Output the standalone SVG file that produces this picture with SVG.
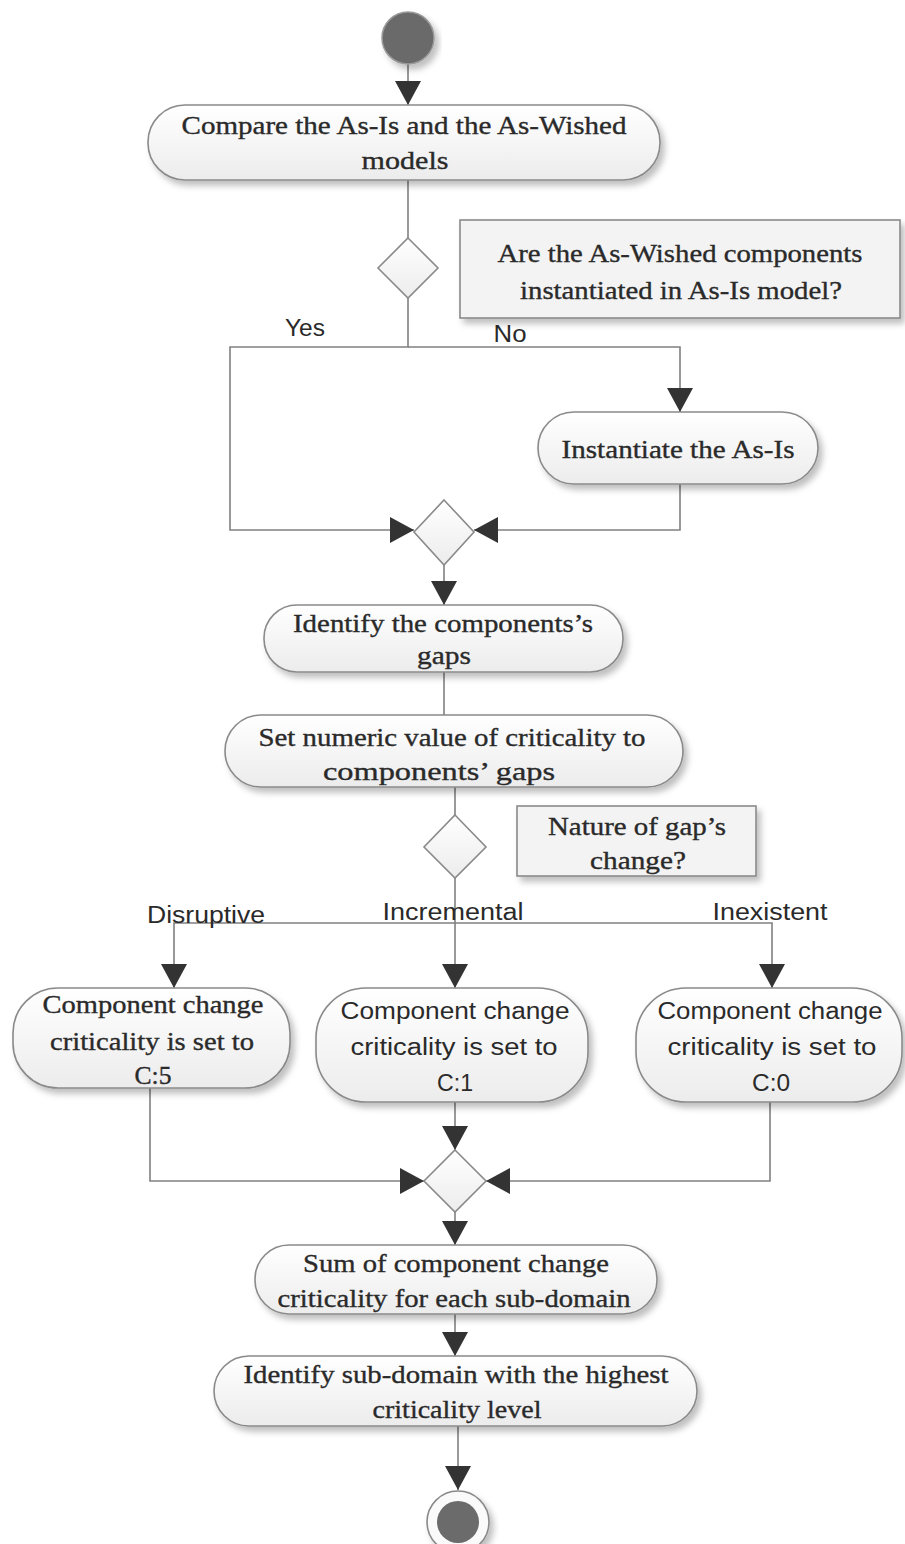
<svg xmlns="http://www.w3.org/2000/svg" width="905" height="1544" viewBox="0 0 905 1544">
<defs>
<linearGradient id="g" x1="0" y1="0" x2="0" y2="1">
<stop offset="0" stop-color="#ffffff"/>
<stop offset="1" stop-color="#ececec"/>
</linearGradient>
<filter id="sh" x="-10%" y="-10%" width="125%" height="135%">
<feDropShadow dx="4" dy="5" stdDeviation="3" flood-color="#000" flood-opacity="0.25"/>
</filter>
<marker id="ah" viewBox="0 0 24 26" refX="24" refY="13" markerWidth="24" markerHeight="26" markerUnits="userSpaceOnUse" orient="auto">
<path d="M0,0 L24,13 L0,26 z" fill="#333"/>
</marker>
<style>
.n{fill:url(#g);stroke:#8a8a8a;stroke-width:1.6;filter:url(#sh)}
.d{fill:url(#g);stroke:#8a8a8a;stroke-width:1.6}
.note{fill:#f3f3f3;stroke:#8a8a8a;stroke-width:1.6;filter:url(#sh)}
.c{fill:none;stroke:#808080;stroke-width:1.6}
.a{marker-end:url(#ah)}
.t{font-family:"Liberation Serif","Times New Roman",serif;font-size:26px;fill:#2a2a2a;stroke:#2a2a2a;stroke-width:0.35;text-anchor:middle}
.s{font-family:"Liberation Sans",Arial,sans-serif;font-size:23px;fill:#2a2a2a;text-anchor:middle}
</style>
</defs>
<g id="connectors">
<path class="c a" d="M408,64 V105"/>
<path class="c" d="M408,180 V238"/>
<path class="c a" d="M408,298 V347 H230 V530 H414"/>
<path class="c a" d="M408,347 H680 V412"/>
<path class="c a" d="M680,484 V530 H474"/>
<path class="c a" d="M444,565 V605"/>
<path class="c" d="M444,672 V715"/>
<path class="c" d="M455,787 V815"/>
<path class="c a" d="M455,878 V988"/>
<path class="c a" d="M455,923 H174 V988"/>
<path class="c a" d="M455,923 H772 V988"/>
<path class="c a" d="M150,1088 V1181 H424"/>
<path class="c a" d="M455,1102 V1150"/>
<path class="c a" d="M770,1102 V1181 H486"/>
<path class="c a" d="M455,1212 V1245"/>
<path class="c a" d="M455,1314 V1356"/>
<path class="c a" d="M458,1426 V1490"/>
<text class="s" x="305" y="336" textLength="40" lengthAdjust="spacingAndGlyphs">Yes</text>
<text class="s" x="510" y="342" textLength="33" lengthAdjust="spacingAndGlyphs">No</text>
<text class="s" x="206" y="923" textLength="118" lengthAdjust="spacingAndGlyphs">Disruptive</text>
<text class="s" x="453" y="920" textLength="141" lengthAdjust="spacingAndGlyphs">Incremental</text>
<text class="s" x="770" y="920" textLength="115" lengthAdjust="spacingAndGlyphs">Inexistent</text>
</g>
<g id="start"><circle cx="408" cy="38" r="26" fill="#6b6b6b" stroke="#9a9a9a" stroke-width="1.5" filter="url(#sh)"/></g>
<g id="compare">
<rect class="n" x="148" y="105" width="512" height="75" rx="37"/>
<text class="t" x="404" y="134" textLength="445" lengthAdjust="spacingAndGlyphs">Compare the As-Is and the As-Wished</text>
<text class="t" x="405" y="169" textLength="87" lengthAdjust="spacingAndGlyphs">models</text>
</g>
<g id="decision1"><path class="d" d="M408,238 L438,268 L408,298 L378,268 Z"/></g>
<g id="note1">
<rect class="note" x="460" y="220" width="440" height="98"/>
<text class="t" x="680" y="262" textLength="365" lengthAdjust="spacingAndGlyphs">Are the As-Wished components</text>
<text class="t" x="681" y="299" textLength="322" lengthAdjust="spacingAndGlyphs">instantiated in As-Is model?</text>
</g>
<g id="instantiate">
<rect class="n" x="538" y="412" width="280" height="72" rx="36"/>
<text class="t" x="678" y="458" textLength="233" lengthAdjust="spacingAndGlyphs">Instantiate the As-Is</text>
</g>
<g id="merge1"><path class="d" d="M444,500 L474,532 L444,565 L414,532 Z"/></g>
<g id="identify">
<rect class="n" x="264" y="605" width="359" height="67" rx="33"/>
<text class="t" x="443" y="632" textLength="300" lengthAdjust="spacingAndGlyphs">Identify the components’s</text>
<text class="t" x="444" y="664" textLength="54" lengthAdjust="spacingAndGlyphs">gaps</text>
</g>
<g id="setvalue">
<rect class="n" x="225" y="715" width="458" height="72" rx="36"/>
<text class="t" x="452" y="746" textLength="387" lengthAdjust="spacingAndGlyphs">Set numeric value of criticality to</text>
<text class="t" x="439" y="780" textLength="232" lengthAdjust="spacingAndGlyphs">components’ gaps</text>
</g>
<g id="decision2"><path class="d" d="M455,815 L486,847 L455,878 L424,847 Z"/></g>
<g id="note2">
<rect class="note" x="517" y="806" width="239" height="70"/>
<text class="t" x="637" y="835" textLength="178" lengthAdjust="spacingAndGlyphs">Nature of gap’s</text>
<text class="t" x="638" y="869" textLength="96" lengthAdjust="spacingAndGlyphs">change?</text>
</g>
<g id="c5">
<rect class="n" x="13" y="988" width="277" height="100" rx="45"/>
<text class="t" x="153" y="1013" textLength="221" lengthAdjust="spacingAndGlyphs">Component change</text>
<text class="t" x="152" y="1050" textLength="204" lengthAdjust="spacingAndGlyphs">criticality is set to</text>
<text class="t" x="153" y="1084" textLength="37" lengthAdjust="spacingAndGlyphs">C:5</text>
</g>
<g id="c1">
<rect class="n" x="316" y="988" width="272" height="114" rx="50"/>
<text class="s" x="455" y="1019" textLength="229" lengthAdjust="spacingAndGlyphs">Component change</text>
<text class="s" x="454" y="1055" textLength="207" lengthAdjust="spacingAndGlyphs">criticality is set to</text>
<text class="s" x="455" y="1091" textLength="36" lengthAdjust="spacingAndGlyphs">C:1</text>
</g>
<g id="c0">
<rect class="n" x="636" y="988" width="266" height="114" rx="50"/>
<text class="s" x="770" y="1019" textLength="225" lengthAdjust="spacingAndGlyphs">Component change</text>
<text class="s" x="772" y="1055" textLength="209" lengthAdjust="spacingAndGlyphs">criticality is set to</text>
<text class="s" x="771" y="1091" textLength="38" lengthAdjust="spacingAndGlyphs">C:0</text>
</g>
<g id="merge2"><path class="d" d="M455,1150 L486,1181 L455,1212 L424,1181 Z"/></g>
<g id="sum">
<rect class="n" x="255" y="1245" width="402" height="69" rx="34"/>
<text class="t" x="456" y="1272" textLength="306" lengthAdjust="spacingAndGlyphs">Sum of component change</text>
<text class="t" x="454" y="1307" textLength="353" lengthAdjust="spacingAndGlyphs">criticality for each sub-domain</text>
</g>
<g id="highest">
<rect class="n" x="214" y="1356" width="483" height="70" rx="35"/>
<text class="t" x="456" y="1383" textLength="425" lengthAdjust="spacingAndGlyphs">Identify sub-domain with the highest</text>
<text class="t" x="457" y="1418" textLength="169" lengthAdjust="spacingAndGlyphs">criticality level</text>
</g>
<g id="end">
<circle cx="458" cy="1522" r="31" fill="#fafafa" stroke="#8a8a8a" stroke-width="1.6" filter="url(#sh)"/>
<circle cx="458" cy="1522" r="21" fill="#6b6b6b"/>
</g>
</svg>
